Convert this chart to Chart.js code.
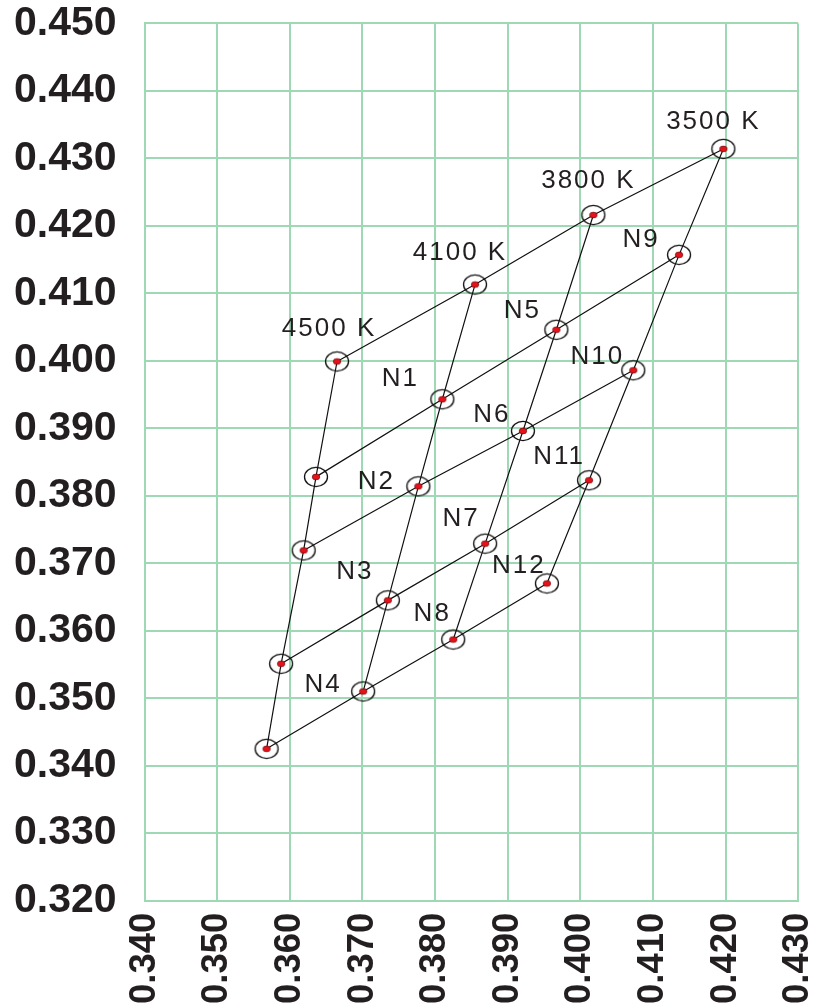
<!DOCTYPE html>
<html lang="en">
<head>
    <meta charset="UTF-8">
    <title>CCT chromaticity bins</title>
    <script src="https://cdn.jsdelivr.net/npm/chart.js"></script>
    <style>
        html, body { margin: 0; padding: 0; background: #ffffff; overflow: hidden; }
        #wrap { position: relative; width: 814px; height: 1006px; overflow: hidden; }
        #binChart { position: absolute; left: -28px; top: -21px; }
    </style>
</head>
<body>
    <div id="wrap">
        <canvas id="binChart" width="871" height="1037"></canvas>
    </div>
    <script>
        // Axis ticks
        const xTicks = [0.340, 0.350, 0.360, 0.370, 0.380, 0.390, 0.400, 0.410, 0.420, 0.430];
        const yTicks = [0.320, 0.330, 0.340, 0.350, 0.360, 0.370, 0.380, 0.390, 0.400, 0.410, 0.420, 0.430, 0.440, 0.450];

        // Grid of corner points: rows top -> bottom, columns 4500 K -> 3500 K
        const gridX = [
            [0.3665, 0.3855, 0.4018, 0.4197],
            [0.3636, 0.3810, 0.3967, 0.4136],
            [0.3619, 0.3777, 0.3921, 0.4073],
            [0.3588, 0.3735, 0.3869, 0.4012],
            [0.3568, 0.3701, 0.3825, 0.3954]
        ];
        const gridY = [
            [0.3999, 0.4113, 0.4216, 0.4314],
            [0.3828, 0.3943, 0.4046, 0.4157],
            [0.3719, 0.3814, 0.3896, 0.3986],
            [0.3551, 0.3645, 0.3729, 0.3823],
            [0.3425, 0.3510, 0.3587, 0.3670]
        ];
        const pointNames = [
            ['4500 K', '4100 K', '3800 K', '3500 K'],
            ['', 'N1', 'N5', 'N9'],
            ['', 'N2', 'N6', 'N10'],
            ['', 'N3', 'N7', 'N11'],
            ['', 'N4', 'N8', 'N12']
        ];

        // text placement relative to each point (pixels, centre of text)
        const labelOffsets = [
            [[-9, -34], [-16, -33], [-6, -35], [-11, -28]],
            [null, [-43, -21], [-35, -20], [-39, -16]],
            [null, [-43, -5], [-32, -17], [-37, -14]],
            [null, [-34, -30], [-25, -26], [-31, -24]],
            [null, [-41, -8], [-22, -27], [-29, -19]]
        ];

        const gridColor = '#9fd8b5';
        const inkColor = '#231f20';

        // ellipse marker with red dot
        function makeMarker() {
            const c = document.createElement('canvas');
            c.width = 28;
            c.height = 24;
            const g = c.getContext('2d');
            g.strokeStyle = '#111111';
            g.lineWidth = 1.3;
            g.beginPath();
            g.ellipse(14, 12, 11.5, 9.6, 0, 0, Math.PI * 2);
            g.stroke();
            g.fillStyle = '#e5121b';
            g.strokeStyle = '#5a0000';
            g.lineWidth = 0.6;
            g.beginPath();
            g.ellipse(14, 12, 3.8, 2.9, 0, 0, Math.PI * 2);
            g.fill();
            g.stroke();
            return c;
        }

        const markerPoints = [];
        gridX.forEach((row, i) => row.forEach((x, j) => markerPoints.push({ x: x, y: gridY[i][j], i: i, j: j })));

        const lineSets = [];
        // rows
        gridX.forEach((row, i) => {
            lineSets.push(row.map((x, j) => ({ x: x, y: gridY[i][j] })));
        });
        // columns
        for (let j = 0; j < 4; j++) {
            lineSets.push(gridX.map((row, i) => ({ x: row[j], y: gridY[i][j] })));
        }

        const datasets = [{
            label: 'points',
            data: markerPoints,
            showLine: false,
            pointStyle: makeMarker(),
            pointRadius: 12,
            pointHoverRadius: 12
        }];
        lineSets.forEach(pts => datasets.push({
            data: pts,
            showLine: true,
            borderColor: '#111111',
            borderWidth: 1.2,
            pointRadius: 0,
            pointHoverRadius: 0,
            fill: false
        }));

        const pointLabels = {
            id: 'pointLabels',
            afterDatasetsDraw(chart) {
                const ctx = chart.ctx;
                const meta = chart.getDatasetMeta(0);
                ctx.save();
                ctx.font = '26px "Liberation Sans", Arial, sans-serif';
                ctx.letterSpacing = '2px';
                ctx.fillStyle = inkColor;
                ctx.textAlign = 'center';
                ctx.textBaseline = 'middle';
                meta.data.forEach((el, k) => {
                    const p = markerPoints[k];
                    const name = pointNames[p.i][p.j];
                    const off = labelOffsets[p.i][p.j];
                    if (!name || !off) return;
                    ctx.fillText(name, el.x + off[0] + 1, el.y + off[1] + 1);
                });
                ctx.restore();
            }
        };

        const yFont = { family: '"Liberation Sans", Arial, sans-serif', size: 41, weight: 'bold', lineHeight: 0.8 };
        const xFont = { family: '"Liberation Sans", Arial, sans-serif', size: 36.5, weight: 'bold', lineHeight: 0.9 };

        new Chart(document.getElementById('binChart'), {
            type: 'scatter',
            data: { datasets: datasets },
            options: {
                responsive: false,
                animation: false,
                events: [],
                layout: { autoPadding: false, padding: { top: 6, left: 14, right: 16, bottom: 0 } },
                plugins: {
                    legend: { display: false },
                    tooltip: { enabled: false }
                },
                scales: {
                    x: {
                        type: 'linear',
                        min: xTicks[0],
                        max: xTicks[xTicks.length - 1],
                        afterBuildTicks: axis => { axis.ticks = xTicks.map(v => ({ value: v })); },
                        grid: { color: gridColor, lineWidth: 2, drawTicks: false },
                        border: { color: gridColor, width: 2 },
                        ticks: {
                            color: inkColor,
                            font: xFont,
                            padding: 12,
                            minRotation: 90,
                            maxRotation: 90,
                            autoSkip: false,
                            callback: v => v.toFixed(3)
                        }
                    },
                    y: {
                        type: 'linear',
                        min: yTicks[0],
                        max: yTicks[yTicks.length - 1],
                        afterBuildTicks: axis => { axis.ticks = yTicks.map(v => ({ value: v })); },
                        grid: { color: gridColor, lineWidth: 2, drawTicks: false },
                        border: { color: gridColor, width: 2 },
                        ticks: {
                            color: inkColor,
                            font: yFont,
                            padding: 28,
                            autoSkip: false,
                            callback: v => v.toFixed(3)
                        }
                    }
                }
            },
            plugins: [pointLabels]
        });
    </script>
</body>
</html>
